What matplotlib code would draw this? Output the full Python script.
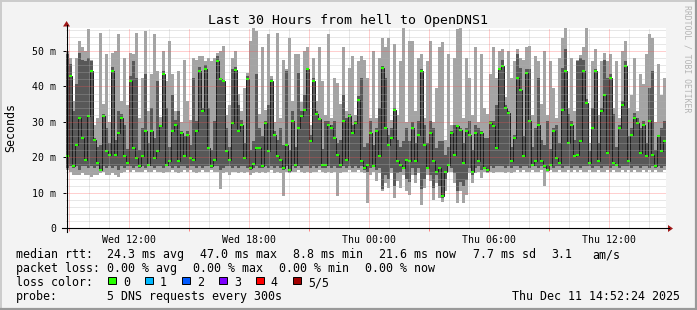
import numpy as np
import matplotlib
matplotlib.use('Agg')
import matplotlib.pyplot as plt
from matplotlib.patches import Rectangle, Polygon
from matplotlib.lines import Line2D

# ---------------- data (ms), 200 consolidated steps over 30 hours ----------------
ping_max = [
    50.0,48.1,36.0,48.1,52.8,51.0,50.0,56.1,47.6,29.0, 31.1,55.2,35.0,49.1,30.0,49.5,50.0,54.7,36.0,48.1,
    34.9,49.5,49.1,55.2,31.0,42.4,55.7,33.0,43.4,54.7, 44.3,31.5,50.0,41.5,52.8,43.4,33.0,44.3,30.0,47.6,
    35.8,30.5,48.1,47.6,48.6,48.6,47.2,48.1,47.2,48.1,
    49.5,50.0,51.4,32.0,34.9,48.1,50.0,38.0,33.0,39.6, 43.9,52.8,56.6,55.7,32.1,51.0,33.5,54.7,43.0,30.0,
    55.2,31.0,47.6,45.0,53.8,36.0,49.1,49.1,35.5,50.0, 51.0,29.0,48.1,36.0,51.0,41.5,32.0,54.7,31.0,42.4,
    41.0,35.0,51.0,33.0,45.3,48.6,32.0,47.2,48.6,47.6,
    42.4,31.0,50.0,31.0,48.1,53.8,51.0,53.8,30.5,51.9, 32.0,47.2,56.6,30.0,52.8,52.8,33.0,48.1,49.1,31.0,
    47.2,52.8,30.0,39.6,51.0,52.4,25.0,49.1,29.0,48.1, 56.1,56.6,31.0,48.1,42.4,32.0,51.0,30.0,49.1,34.0,
    32.1,43.4,51.0,42.4,50.0,50.5,37.0,50.0,42.4,47.2,
    50.5,48.1,47.6,51.0,51.4,32.0,48.6,47.2,35.0,50.0, 32.0,47.2,39.6,31.0,48.1,53.8,56.6,34.0,48.1,33.0,
    47.6,49.0,51.0,56.6,24.0,47.2,50.5,32.0,47.2,49.5, 47.2,49.1,34.0,47.2,31.0,50.0,52.8,34.0,37.7,48.1,
    33.0,43.4,40.6,49.1,54.7,53.8,30.0,46.2,37.7,42.4,
]
ping_p4 = [
    49.1,46.2,33.0,40.6,49.5,47.6,47.2,48.1,47.2,25.5, 23.0,23.6,32.1,28.3,24.0,45.5,25.0,33.0,32.1,29.2,
    22.5,43.0,47.2,42.4,22.0,28.3,43.4,24.0,34.0,25.5, 41.5,29.2,44.3,34.0,23.0,37.7,30.5,33.0,27.4,26.0,
    27.4,23.5,42.4,30.2,45.5,34.0,46.0,34.0,22.0,30.2,
    48.6,42.4,41.5,28.3,23.0,44.8,45.5,34.9,30.5,24.0, 43.0,22.0,24.5,43.4,28.3,26.0,30.2,34.9,42.0,27.4,
    25.0,28.3,23.6,44.3,22.0,33.0,23.0,43.9,33.0,37.7, 45.3,26.4,42.5,33.0,31.1,22.5,30.2,30.2,29.2,30.2,
    24.0,25.0,37.7,31.1,32.1,29.2,30.2,37.3,42.4,23.0,
    24.0,30.2,23.6,28.3,34.0,45.8,42.4,26.4,28.3,34.0, 25.0,23.0,24.5,28.3,24.5,30.0,24.0,30.2,44.8,29.2,
    24.0,30.2,28.3,22.6,24.5,24.5,20.8,23.0,27.4,29.2, 29.2,28.3,24.0,28.3,30.2,22.0,29.2,28.3,27.4,25.5,
    25.5,30.2,30.2,34.9,45.3,47.6,34.9,33.0,23.0,26.4,
    49.1,45.3,26.0,45.0,44.8,23.0,28.3,42.4,25.0,23.5, 30.2,22.5,28.3,29.2,24.0,45.3,50.5,32.1,30.2,25.0,
    47.2,48.1,47.6,36.5,21.7,34.0,44.8,24.0,34.0,47.6, 42.4,43.5,32.1,23.0,29.2,35.8,47.2,26.0,28.3,32.5,
    31.1,28.3,30.2,24.0,39.6,44.3,22.0,26.4,28.3,30.2,
]
ping_median = [
    20.3,42.9,17.5,23.6,31.1,25.5,19.3,31.6,44.3,25.0, 18.4,16.5,31.6,21.7,20.8,44.3,20.8,26.9,31.1,20.3,
    18.4,41.5,22.6,19.8,17.5,20.3,27.4,17.9,27.4,19.8, 21.7,28.8,43.4,17.9,18.9,27.4,29.2,18.9,26.9,20.3,
    26.4,19.8,19.3,27.4,44.3,33.0,44.8,22.6,17.5,19.3,
    47.2,42.0,41.5,21.7,19.3,29.7,44.5,27.4,29.2,19.8, 42.0,17.0,18.1,22.6,22.6,17.5,29.7,21.7,41.5,26.4,
    20.3,19.3,17.0,23.6,16.5,30.2,17.9,28.3,31.6,33.5, 44.8,24.5,41.5,32.1,30.7,17.9,17.9,29.2,28.3,25.5,
    20.8,17.9,30.2,19.3,31.6,26.9,29.7,36.3,18.9,17.0,
    17.9,26.9,17.5,27.4,20.3,45.3,28.3,23.6,25.5,33.5, 18.9,17.9,17.0,19.3,18.9,28.3,18.9,26.4,44.3,23.6,
    17.0,26.9,18.9,16.0,17.0,9.0,16.0,17.9,26.9,20.8, 28.8,27.8,18.4,27.4,26.4,16.0,26.9,18.9,26.9,17.0,
    16.5,29.7,28.8,22.6,44.8,45.8,34.0,32.5,18.9,25.5,
    42.4,39.1,20.3,43.9,30.2,17.9,18.9,29.2,18.9,17.5, 16.5,17.9,27.4,19.8,18.4,33.5,44.3,24.1,29.2,20.3,
    20.8,24.5,44.3,35.4,18.4,28.3,44.3,18.9,33.0,37.7, 21.2,42.4,18.4,17.9,28.3,34.9,45.8,18.9,26.4,31.1,
    29.7,21.2,29.2,20.3,30.2,20.8,17.5,25.9,21.7,24.5,
]
ping_p2 = [
    17.0,17.5,17.0,17.5,16.5,17.5,17.5,17.0,17.5,17.0, 17.5,16.5,17.5,17.0,17.5,17.0,17.5,16.5,17.5,17.0,
    17.5,17.5,17.0,17.5,17.0,17.5,17.0,17.5,17.5,17.0, 17.5,17.5,17.0,17.5,17.5,17.0,17.5,17.0,17.5,17.5,
    17.0,17.5,17.5,17.0,17.5,17.0,17.5,17.5,17.0,17.5,
    17.5,16.5,17.0,17.5,17.5,17.0,17.5,17.0,17.5,17.5, 17.0,16.5,17.0,17.5,17.0,17.0,17.5,17.0,17.5,17.0,
    17.5,17.0,16.5,17.5,16.0,17.5,17.0,17.5,17.0,17.5, 17.5,17.0,17.5,17.0,17.5,17.0,17.0,17.5,17.0,17.5,
    17.0,17.0,17.5,17.0,17.5,17.0,17.5,17.0,17.5,16.5,
    16.0,17.0,17.5,16.5,17.0,11.0,15.0,14.0,17.0,12.0, 15.5,16.0,17.0,14.0,13.0,17.0,15.0,17.0,11.0,14.0,
    17.0,15.0,11.5,15.0,12.0,8.5,14.0,17.5,17.0,15.5, 10.5,13.0,12.0,13.5,17.0,15.0,17.0,17.5,16.5,17.0,
    16.0,17.5,17.0,17.5,17.5,17.5,17.0,17.5,17.0,17.5,
    17.5,17.0,17.5,17.5,17.0,17.5,17.5,17.0,17.5,17.0, 16.5,17.5,17.0,17.5,17.5,17.0,17.5,17.5,17.0,17.5,
    17.5,17.0,17.5,17.5,17.5,17.0,17.5,17.5,17.0,17.5, 17.5,17.0,17.5,17.5,17.0,17.5,17.5,17.5,17.0,17.5,
    17.5,17.0,17.5,17.5,17.0,17.5,17.0,17.5,17.0,17.5,
]
ping_min = [
    16.5,16.0,15.1,15.1,15.1,15.5,15.1,15.1,14.6,15.1, 15.1,15.5,16.0,15.1,15.1,15.5,15.1,14.6,15.5,16.0,
    16.5,16.0,16.5,16.0,16.0,16.0,16.5,16.0,16.0,16.5, 16.0,16.0,15.5,16.0,16.0,16.5,16.0,15.5,16.0,16.5,
    16.0,16.5,16.0,15.5,16.0,16.5,16.0,16.0,16.5,16.0,
    16.0,11.0,15.5,16.0,15.1,16.0,16.0,15.5,16.0,15.5, 16.0,15.1,15.5,16.0,15.5,16.0,15.5,16.0,16.5,15.5,
    16.0,15.5,9.0,16.0,15.5,16.0,16.0,16.5,16.0,15.5, 16.0,15.5,16.0,16.0,16.5,16.0,15.5,16.0,15.5,16.0,
    9.0,15.5,16.0,16.0,16.5,16.0,16.0,16.5,16.0,15.5,
    7.1,15.1,16.0,13.2,15.5,10.5,12.7,11.3,15.5,8.5, 13.2,11.3,15.1,10.4,9.4,15.1,12.7,15.5,6.6,11.3,
    15.1,13.2,8.0,12.7,8.5,7.5,10.4,16.0,16.0,12.7, 7.0,10.4,7.1,9.4,15.5,12.7,15.5,16.0,14.1,16.0,
    15.5,16.0,15.5,16.0,16.0,16.0,15.5,16.0,15.5,16.0,
    16.5,16.0,16.5,16.0,16.0,16.5,16.0,16.0,16.5,12.0, 16.0,16.5,16.0,16.0,16.5,16.0,16.0,16.5,16.0,16.5,
    16.0,16.5,16.0,16.0,16.5,16.0,16.0,16.5,16.0,16.0, 16.5,16.0,16.5,16.0,16.0,16.5,16.0,16.5,16.0,16.5,
    16.0,16.0,16.5,16.0,16.5,16.0,16.5,16.0,16.0,16.5,
]

y_ticks = [0, 10, 20, 30, 40, 50]
y_labels = ['0', '10 m', '20 m', '30 m', '40 m', '50 m']
x_ticks = [12, 18, 24, 30, 36]          # hours since Wed 00:00
x_labels = ['Wed 12:00', 'Wed 18:00', 'Thu 00:00', 'Thu 06:00', 'Thu 12:00']
end_hour = 24 + 14 + 52 / 60 + 24 / 3600  # Thu 14:52:24
span_hours = 30

title = 'Last 30 Hours from hell to OpenDNS1'
loss_labels = ['0', '1', '2', '3', '4', '5/5']
loss_colors = ['#26ff00', '#00b8ff', '#0059ff', '#7e00ff', '#ff0000', '#a10000']

# ---------------- figure ----------------
W, H = 697, 310
MONO = 'DejaVu Sans Mono'
fig = plt.figure(figsize=(W / 100, H / 100), dpi=100, facecolor='#f3f3f3')

def fx(x):
    return x / W

def fy(y):
    return 1 - y / H

ax = fig.add_axes([fx(66), fy(228.3), 600 / W, 200 / H])
ax.set_facecolor('white')

vmin = np.array(ping_min); v2 = np.array(ping_p2); vmed = np.array(ping_median)
v4 = np.array(ping_p4); vmax = np.array(ping_max)
start = end_hour - span_hours
edges = np.linspace(start, end_hour, len(vmed) + 1)

ax.stairs(vmax, edges, baseline=vmin, fill=True, color='#a4a4a4', lw=0, zorder=1)
ax.stairs(v4, edges, baseline=v2, fill=True, color='#585858', lw=0, zorder=2)
ax.stairs(vmed, edges, baseline=None, color='#1e1e1e', lw=0.7, zorder=3)
ax.hlines(vmed, edges[:-1], edges[1:], color=loss_colors[0], lw=1.5, zorder=4,
          capstyle='butt')

ax.set_xlim(start, end_hour)
ax.set_ylim(0, 56.4)

# grid on top (rrdtool style dotted)
dot = (0, (1, 1))
for v in np.arange(2, 57, 2):
    if v % 10 == 0:
        ax.axhline(v, color='#ff5050', alpha=0.55, lw=0.72, ls=dot, zorder=6)
    else:
        ax.axhline(v, color='#b0b0b0', alpha=0.6, lw=0.72, ls=dot, zorder=5)
for h in range(int(np.ceil(start)), int(end_hour) + 1):
    if h % 3 == 0:
        ax.axvline(h, color='#ff5050', alpha=0.55, lw=0.72, ls=dot, zorder=6)
    else:
        ax.axvline(h, color='#b0b0b0', alpha=0.6, lw=0.72, ls=dot, zorder=5)

for s in ax.spines.values():
    s.set_visible(False)

ax.set_yticks(y_ticks, labels=y_labels)
ax.set_xticks(x_ticks, labels=x_labels)
ax.set_xticks([h for h in range(int(np.ceil(start)), int(end_hour) + 1) if h % 3 == 0], minor=True)
ax.tick_params(axis='y', which='major', direction='out', length=2.5, width=0.7,
               color='black', labelsize=7.1, pad=4.5)
ax.tick_params(axis='x', which='major', length=0, labelsize=7.1, pad=4.8)
ax.tick_params(axis='x', which='minor', direction='out', length=2.2, width=0.7,
               color='#ff8080')
ax.tick_params(axis='y', which='minor', length=0)
for lab in ax.get_xticklabels() + ax.get_yticklabels():
    lab.set_family(MONO)

# axis lines with arrows (pixel positions of decoration)
px = lambda x, y: (fx(x), fy(y))
fig.add_artist(Line2D([fx(62), fx(669)], [fy(228.3), fy(228.3)], color='black', lw=0.8,
                      transform=fig.transFigure))
fig.add_artist(Line2D([fx(66.5), fx(66.5)], [fy(232), fy(25)], color='black', lw=0.8,
                      transform=fig.transFigure))
fig.add_artist(Polygon([px(668, 225), px(673, 228.5), px(668, 232)], closed=True,
                       color='#a01818', transform=fig.transFigure, lw=0))
fig.add_artist(Polygon([px(63, 26.5), px(66.6, 21), px(70, 26.5)], closed=True,
                       color='#a01818', transform=fig.transFigure, lw=0))

# title and labels
fig.text(fx(347.5), fy(24), title, ha='center', va='baseline', fontsize=9.5, family=MONO)
fig.text(fx(11), fy(128), 'Seconds', ha='center', va='center', rotation=90,
         fontsize=8.4, family=MONO)
fig.text(fx(687.5), fy(59), 'RRDTOOL / TOBI OETIKER', ha='center', va='center',
         rotation=270, fontsize=5.9, family=MONO, color='#b4b4b4')

# legend rows
LFS = 8.4
rows = [
    (258.3, [(16, 'median rtt:'), (107, '24.3 ms avg'), (200, '47.0 ms max'),
             (293.3, '8.8 ms min'), (379.3, '21.6 ms now'), (473.3, '7.7 ms sd'),
             (551, '3.1'), (592.7, 'am/s')]),
    (272.3, [(16, 'packet loss:'), (107, '0.00 % avg'), (193.3, '0.00 % max'),
             (279.3, '0.00 % min'), (365, '0.00 % now')]),
    (286.3, [(16, 'loss color:')]),
    (300.0, [(16, 'probe:'), (107, '5 DNS requests every 300s')]),
]
for yb, items in rows:
    for x, s in items:
        fig.text(fx(x), fy(yb), s, ha='left', va='baseline', fontsize=LFS, family=MONO)
fig.text(fx(680), fy(300), 'Thu Dec 11 14:52:24 2025', ha='right', va='baseline',
         fontsize=LFS, family=MONO)

box_x = [108.3, 145.3, 182.3, 219.3, 256.3, 293.3]
for bx, lab, col in zip(box_x, loss_labels, loss_colors):
    fig.add_artist(Rectangle((fx(bx), fy(284)), 7.5 / W, 7.5 / H, facecolor=col,
                             edgecolor='black', lw=0.7, transform=fig.transFigure))
    fig.text(fx(bx + 14.5), fy(286.3), lab, ha='left', va='baseline', fontsize=LFS,
             family=MONO)

# frame of the image
fig.add_artist(Line2D([0, 1], [fy(0.5), fy(0.5)], color='#cbcbcb', lw=1.4,
                      transform=fig.transFigure))
fig.add_artist(Line2D([fx(0.5), fx(0.5)], [0, 1], color='#cbcbcb', lw=1.4,
                      transform=fig.transFigure))
fig.add_artist(Line2D([0, 1], [fy(309), fy(309)], color='#999999', lw=1.6,
                      transform=fig.transFigure))
fig.add_artist(Line2D([fx(696), fx(696)], [0, 1], color='#999999', lw=1.6,
                      transform=fig.transFigure))

fig.savefig('out.png', dpi=100, facecolor=fig.get_facecolor())
